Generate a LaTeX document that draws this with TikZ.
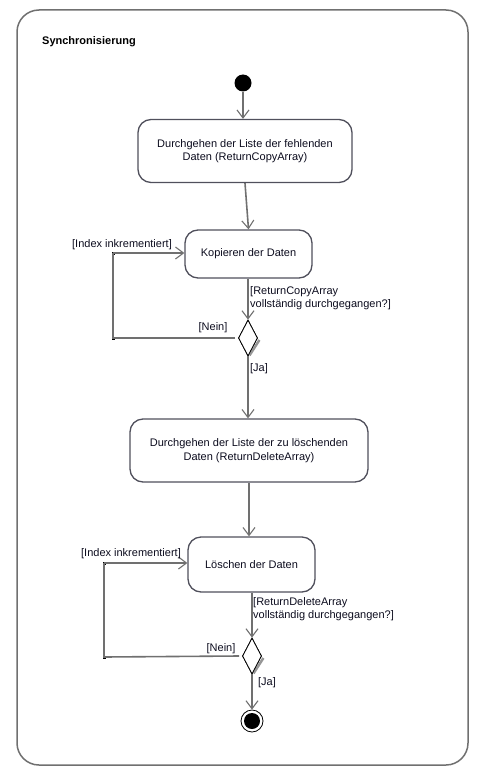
\documentclass[tikz,border=0pt]{standalone}
\usepackage{fontspec}
\setmainfont{Liberation Sans}
\usetikzlibrary{arrows.meta,shapes.geometric}
\definecolor{linec}{RGB}{112,112,112}
\definecolor{boxc}{RGB}{80,80,92}
\definecolor{txt}{RGB}{12,12,30}
\definecolor{shad}{RGB}{150,150,150}
\tikzset{
  arr/.style={-{Straight Barb[length=8pt,width=12pt,line width=1.1pt]}},
  conn/.style={draw=linec,line width=1.6pt},
  actbox/.style={draw=boxc,line width=1.3pt,rounded corners=13pt,fill=white,
    align=center,text=txt,inner sep=0pt,font=\fontsize{11}{13.5}\selectfont},
  decis/.style={diamond,draw=black,line width=0.8pt,fill=white,inner sep=0pt,
    minimum width=19pt,minimum height=36pt,aspect=0.53},
  wp/.style={fill=black,minimum size=3pt,inner sep=0pt},
  lbl/.style={text=txt,font=\fontsize{11}{13.5}\selectfont,inner sep=0pt,align=left},
}
\begin{document}
\begin{tikzpicture}[x=1pt,y=-1pt]
\useasboundingbox (0,0) rectangle (485,781);
\draw[draw=linec,line width=1.5pt,rounded corners=22pt] (17,10) rectangle (468,765);
\node[anchor=west,font=\fontsize{11}{13}\selectfont\bfseries,inner sep=0pt] (title) at (42,42) {Synchronisierung};

\node[circle,fill=black,minimum size=17pt,inner sep=0pt] (start) at (243,83) {};

\node[actbox,minimum width=214pt,minimum height=63pt] (box1) at (245,151)
  {Durchgehen der Liste der fehlenden\\Daten (ReturnCopyArray)};
\node[actbox,minimum width=127pt,minimum height=48pt] (box2) at (248.5,254)
  {Kopieren der Daten};
\node[decis] (d1) at (248,338) {};
\node[actbox,minimum width=238pt,minimum height=63pt] (box3) at (249,450.5)
  {Durchgehen der Liste der zu löschenden\\Daten (ReturnDeleteArray)};
\node[actbox,minimum width=127pt,minimum height=55pt] (box4) at (251.5,564.5)
  {Löschen der Daten};
\node[decis] (d2) at (252,656) {};
\node[circle,draw=black,line width=0.8pt,minimum size=22pt,inner sep=0pt] (endo) at (252,721) {};
\node[circle,fill=black,minimum size=16pt,inner sep=0pt] (endi) at (252,721) {};

% shadows of decisions
\draw[shad,line width=2.5pt] ([xshift=1.5pt,yshift=-2pt]d1.east) -- ([xshift=1.5pt,yshift=1pt]d1.south);
\draw[shad,line width=2.5pt] ([xshift=1.5pt,yshift=-2pt]d2.east) -- ([xshift=1.5pt,yshift=1pt]d2.south);
\node[decis] at (d1) {};
\node[decis] at (d2) {};

\node[wp] (c1) at (113,338) {};
\node[wp] (c2) at (113,253) {};
\node[wp] (c3) at (104,657) {};
\node[wp] (c4) at (104,563) {};

% connectors
\draw[conn,arr] (start) -- (start |- box1.north);
\draw[conn,arr] (box1.south) -- (box2.north);
\draw[conn,arr] (box2.south -| d1.north) -- (d1.north);
\draw[conn] ([xshift=-3pt]d1.west) -- (c1.center) -- (c2.center);
\draw[conn,arr] (c2.center) -- (c2 -| box2.west);
\draw[conn,arr] (d1.south) -- (d1.south |- box3.north);
\draw[conn,arr] (box3.south) -- (box3.south |- box4.north);
\draw[conn,arr] (box4.south -| d2.north) -- (d2.north);
\draw[conn] ([xshift=-3pt]d2.west) -- (c3.center) -- (c4.center);
\draw[conn,arr] (c4.center) -- (c4 -| box4.west);
\draw[conn,arr] (d2.south) -- (endo.north);

% labels
\node[lbl,anchor=base] (l1) at (122,247) {[Index inkrementiert]};
\node[lbl,anchor=north west] (l2) at (250,286) {[ReturnCopyArray\\vollständig durchgegangen?]};
\node[lbl,anchor=base] (l3) at (213,330) {[Nein]};
\node[lbl,anchor=base] (l4) at (259,371) {[Ja]};
\node[lbl,anchor=base] (l5) at (131,556) {[Index inkrementiert]};
\node[lbl,anchor=north west] (l6) at (253,597) {[ReturnDeleteArray\\vollständig durchgegangen?]};
\node[lbl,anchor=base] (l7) at (221,651) {[Nein]};
\node[lbl,anchor=base] (l8) at (267,685) {[Ja]};
\end{tikzpicture}
\end{document}
